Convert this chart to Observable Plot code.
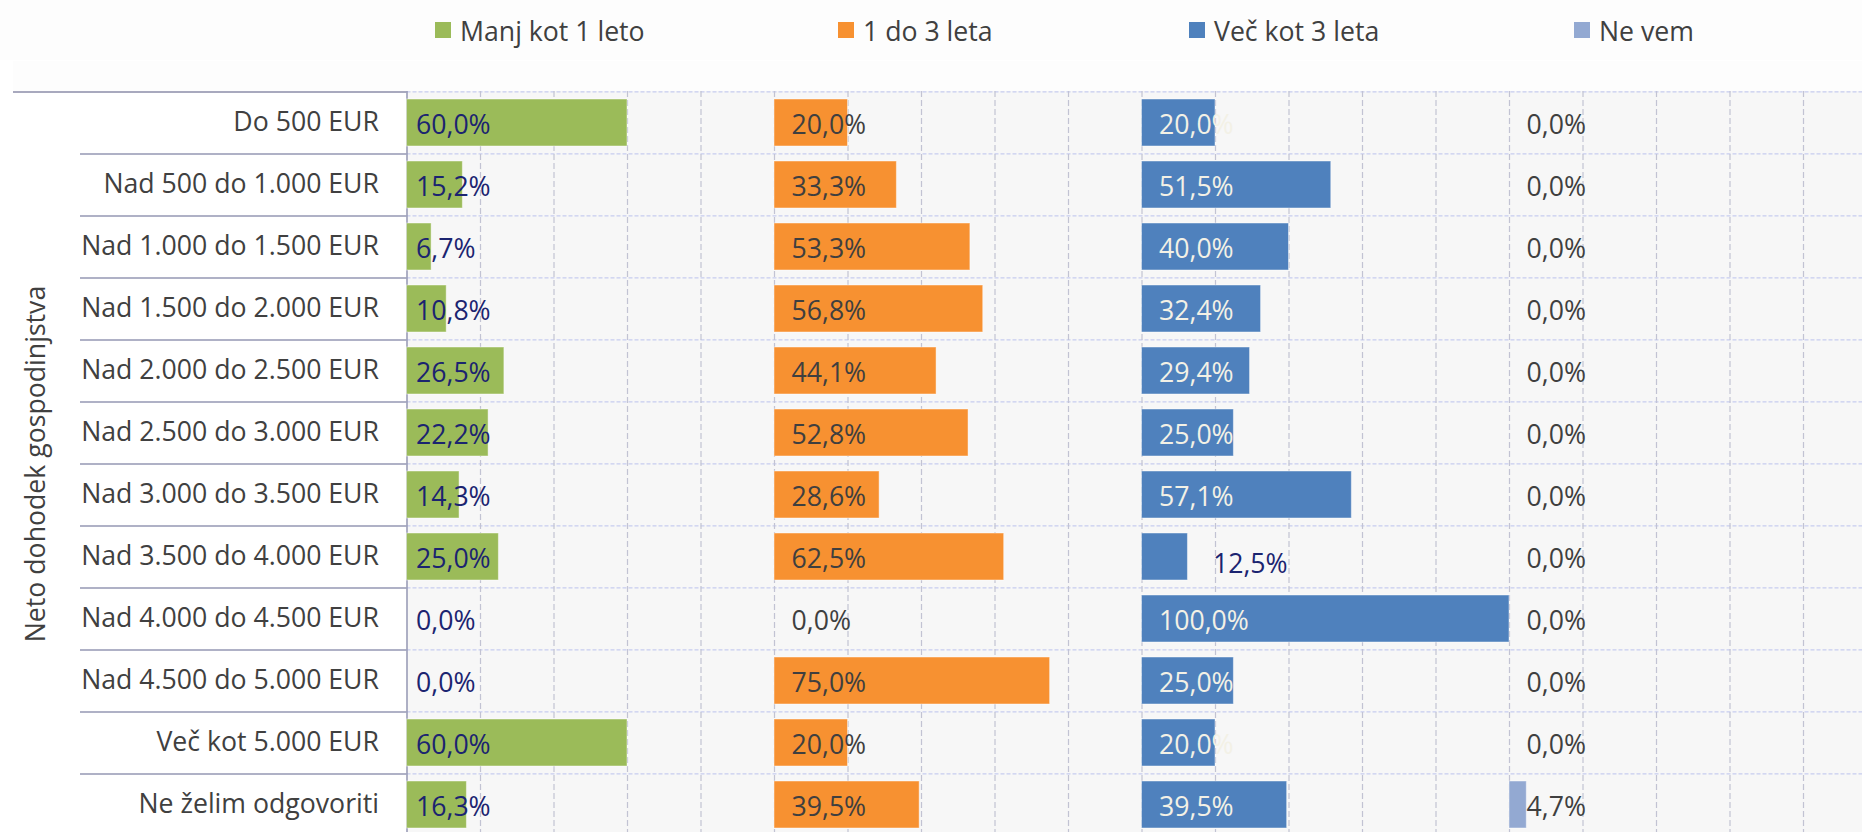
<!DOCTYPE html>
<html>
<head>
<meta charset="utf-8">
<script src="https://cdn.jsdelivr.net/npm/d3@7"></script>
<script src="https://cdn.jsdelivr.net/npm/@observablehq/plot@0.6"></script>
<style>
  html, body { margin: 0; padding: 0; background: #ffffff; overflow: hidden; }
  body { width: 1862px; height: 832px; font-family: "Open Sans", sans-serif; }
  #legend { position: relative; height: 60px; width: 1862px; background: #fdfdfd; }
  .item { position: absolute; top: 0; height: 60px; display: flex; align-items: center; font-size: 26.67px; color: #404040; white-space: nowrap; }
  .sw { width: 16px; height: 16px; margin-right: 9px; }
  #chart svg { display: block; overflow: hidden; }
</style>
</head>
<body>
<div id="legend"></div>
<div id="chart"></div>
<script>
// ---- data ----
const categories = [
  "Do 500 EUR",
  "Nad 500 do 1.000 EUR",
  "Nad 1.000 do 1.500 EUR",
  "Nad 1.500 do 2.000 EUR",
  "Nad 2.000 do 2.500 EUR",
  "Nad 2.500 do 3.000 EUR",
  "Nad 3.000 do 3.500 EUR",
  "Nad 3.500 do 4.000 EUR",
  "Nad 4.000 do 4.500 EUR",
  "Nad 4.500 do 5.000 EUR",
  "Več kot 5.000 EUR",
  "Ne želim odgovoriti"
];
const seriesNames = ["Manj kot 1 leto", "1 do 3 leta", "Več kot 3 leta", "Ne vem"];
const manjKot1 = [60.0, 15.2, 6.7, 10.8, 26.5, 22.2, 14.3, 25.0, 0.0, 0.0, 60.0, 16.3];
const od1do3   = [20.0, 33.3, 53.3, 56.8, 44.1, 52.8, 28.6, 62.5, 0.0, 75.0, 20.0, 39.5];
const vecKot3  = [20.0, 51.5, 40.0, 32.4, 29.4, 25.0, 57.1, 12.5, 100.0, 25.0, 20.0, 39.5];
const neVem    = [0.0, 0.0, 0.0, 0.0, 0.0, 0.0, 0.0, 0.0, 0.0, 0.0, 0.0, 4.7];
const gridStep = 20;
const yTitle = "Neto dohodek gospodinjstva";

// ---- styles ----
const colors = ["#9bbb59", "#f79131", "#4f81bd", "#93a9d2"];
const labelColors = ["#1b2470", "#3f3f3f", "#f3f1e6", "#3f3f3f"];
const labelDx = [9, 17, 17, 17];
const legendX = [435, 838, 1189, 1574];
const FS = 26.67;

const seriesValues = [manjKot1, od1do3, vecKot3, neVem];
const rows = seriesValues.flatMap((vals, s) =>
  vals.map((v, i) => ({cat: categories[i], series: seriesNames[s], s, value: v, offset: s * 100}))
);
const fmt = v => v.toFixed(1).replace(".", ",") + "%";

// legend
const legend = document.getElementById("legend");
seriesNames.forEach((name, s) => {
  const it = document.createElement("div");
  it.className = "item";
  it.style.left = legendX[s] + "px";
  it.innerHTML = `<div class="sw" style="background:${colors[s]}"></div><span>${name}</span>`;
  legend.appendChild(it);
});

const W = 1862, H = 776, mTop = 31, mLeft = 13;
const x0 = 406.5, unit = 3.675;          // px per percent
const step = (H - mTop) / categories.length;
const padInner = 0.24;
const gapHalf = step * padInner / 2;
const labelCol = W - x0;                 // right inset for label-column rules

const isOutside = d => d.s === 2 && d.value < 15;

const chart = Plot.plot({
  width: W,
  height: H,
  marginTop: mTop,
  marginBottom: 0,
  marginLeft: mLeft,
  marginRight: 0,
  style: {background: "#ffffff", fontFamily: "Open Sans", fontSize: FS + "px", overflow: "hidden"},
  x: {domain: [0, 400], range: [x0, x0 + 400 * unit], axis: null},
  y: {domain: categories, paddingInner: padInner, paddingOuter: padInner / 2, axis: null},
  marks: [
    // top strip continuing the legend background
    Plot.ruleY(categories.slice(0, 1), {y: d => d, dy: -step / 2 - mTop / 2, stroke: "#fdfdfd", strokeWidth: mTop}),
    // plot area background
    Plot.barX(categories, {y: d => d, x1: 0, x2: 400, fill: "#f7f7f7", insetTop: -gapHalf - 0.5, insetBottom: -gapHalf - 0.5}),
    // horizontal dashed grid at row boundaries
    Plot.ruleY(categories, {y: d => d, dy: -step / 2, x1: 0, x2: 400, stroke: "#c8cdf0", strokeWidth: 1.2, strokeDasharray: "4,2"}),
    // vertical dashed grid
    Plot.ruleX(d3.range(gridStep, 401, gridStep), {stroke: "#c2c3d3", strokeWidth: 1.2, strokeDasharray: "6,3"}),
    // label column separators
    Plot.ruleY(categories.slice(1), {y: d => d, dy: -step / 2, insetLeft: 67, insetRight: labelCol, stroke: "#9597b3", strokeWidth: 1.5}),
    Plot.ruleY(categories.slice(0, 1), {y: d => d, dy: -step / 2, insetLeft: 0, insetRight: labelCol, stroke: "#8b8da9", strokeWidth: 1.5}),
    // axis line
    Plot.ruleX([0], {stroke: "#9597b3", strokeWidth: 1.5}),
    // bars
    Plot.barX(rows.filter(d => d.value > 0), {
      y: "cat", x1: "offset", x2: d => d.offset + d.value,
      fill: d => colors[d.s], stroke: "#ffffff", strokeOpacity: 0.45, strokeWidth: 1
    }),
    // value labels
    ...seriesNames.map((name, s) =>
      Plot.text(rows.filter(d => d.s === s && !isOutside(d)), {
        y: "cat", x: "offset", text: d => fmt(d.value),
        textAnchor: "start", dx: labelDx[s], dy: 2, fill: labelColors[s],
        fontSize: FS, fontFamily: "Open Sans"
      })
    ),
    Plot.text(rows.filter(isOutside), {
      y: "cat", x: d => d.offset + d.value, text: d => fmt(d.value),
      textAnchor: "start", dx: 25, dy: 7, fill: "#1b2470", fontSize: FS, fontFamily: "Open Sans"
    }),
    // category labels
    Plot.text(categories, {
      y: d => d, x: 0, text: d => d, textAnchor: "end", dx: -28, dy: -1,
      fill: "#404040", fontSize: FS, fontFamily: "Open Sans"
    }),
    // y title
    Plot.text([yTitle], {
      frameAnchor: "left", text: d => d, rotate: -90, textAnchor: "middle", dx: 23, dy: 0,
      fill: "#404040", fontSize: FS, fontFamily: "Open Sans"
    })
  ]
});
document.getElementById("chart").appendChild(chart);
</script>
</body>
</html>
